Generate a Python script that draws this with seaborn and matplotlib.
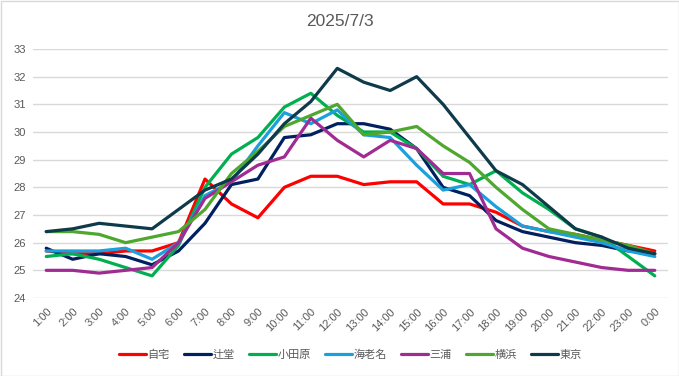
import pandas as pd
from matplotlib import pyplot as plt
import seaborn as sns

hours = [f'{h}:00' for h in range(1, 24)] + ['0:00']

jitaku   = [25.7, 25.6, 25.6, 25.7, 25.7, 26.0, 28.3, 27.4, 26.9, 28.0, 28.4, 28.4, 28.1, 28.2, 28.2, 27.4, 27.4, 27.1, 26.6, 26.4, 26.3, 26.1, 25.9, 25.7]
tsujido  = [25.8, 25.4, 25.6, 25.5, 25.2, 25.7, 26.7, 28.1, 28.3, 29.8, 29.9, 30.3, 30.3, 30.1, 29.4, 28.0, 27.7, 26.8, 26.4, 26.2, 26.0, 25.9, 25.7, 25.6]
odawara  = [25.5, 25.6, 25.4, 25.1, 24.8, 25.9, 28.0, 29.2, 29.8, 30.9, 31.4, 30.6, 30.0, 30.0, 29.4, 28.4, 28.1, 28.6, 27.8, 27.2, 26.5, 26.2, 25.5, 24.8]
ebina    = [25.7, 25.7, 25.7, 25.8, 25.4, 26.0, 27.7, 28.2, 29.5, 30.7, 30.3, 30.8, 29.9, 29.8, 28.8, 27.9, 28.1, 27.3, 26.6, 26.4, 26.2, 26.0, 25.7, 25.5]
miura    = [25.0, 25.0, 24.9, 25.0, 25.1, 26.0, 27.6, 28.2, 28.8, 29.1, 30.5, 29.7, 29.1, 29.7, 29.4, 28.5, 28.5, 26.5, 25.8, 25.5, 25.3, 25.1, 25.0, 25.0]
yokohama = [26.4, 26.4, 26.3, 26.0, 26.2, 26.4, 27.2, 28.5, 29.3, 30.2, 30.6, 31.0, 29.9, 30.0, 30.2, 29.5, 28.9, 28.0, 27.2, 26.5, 26.3, 26.1, 25.9, 25.6]
tokyo    = [26.4, 26.5, 26.7, 26.6, 26.5, 27.2, 27.9, 28.3, 29.2, 30.3, 31.1, 32.3, 31.8, 31.5, 32.0, 31.0, 29.8, 28.6, 28.1, 27.3, 26.5, 26.2, 25.8, 25.6]

places = ['自宅', '辻堂', '小田原', '海老名', '三浦', '横浜', '東京']
series = [jitaku, tsujido, odawara, ebina, miura, yokohama, tokyo]
colors = ['#FF0000', '#002060', '#00B050', '#1AA0DC', '#A02B93', '#4EA72E', '#0E3A4A']

rows = []
for name, vals in zip(places, series):
    for i, v in enumerate(vals):
        rows.append({'hour': i, 'place': name, 'temp': v})
df = pd.DataFrame(rows)

sns.set_style('white')
plt.rcParams['font.family'] = ['Liberation Sans', 'Noto Sans CJK JP', 'DejaVu Sans']

fig = plt.figure(figsize=(6.79, 3.76), dpi=100)
ax = fig.add_axes([33/679, 1-298/376, 635/679, 249/376])

sns.lineplot(data=df, x='hour', y='temp', hue='place', hue_order=places,
             palette=colors, linewidth=2.3, ax=ax)

ax.set_xlim(-0.5, 23.5)
ax.set_ylim(24, 33)
ax.set_yticks(range(24, 34))
ax.set_xticks(range(24))
ax.set_xticklabels(hours, rotation=45, ha='right', rotation_mode='anchor')
ax.tick_params(axis='both', length=0, labelsize=8, labelcolor='#595959')
ax.tick_params(axis='y', pad=5)
ax.tick_params(axis='x', pad=6)
ax.grid(axis='y', color='#D9D9D9', linewidth=1)
ax.grid(axis='x', visible=False)
for s in ax.spines.values():
    s.set_visible(False)
ax.set_xlabel('')
ax.set_ylabel('')

fig.text(0.5, 1-22/376, '2025/7/3', ha='center', va='center', fontsize=12.5, color='#595959')

leg = ax.legend(loc='center', bbox_to_anchor=(0.5, (298-355)/249), ncol=7, frameon=False,
                fontsize=8, handlelength=2.4, handletextpad=0.15, columnspacing=1.3)
for t in leg.get_texts():
    t.set_color('#595959')
for l in leg.get_lines():
    l.set_linewidth(2.3)

border = plt.Rectangle((0.5/679, 0.5/376), 1-1/679, 1-1/376, transform=fig.transFigure,
                       fill=False, edgecolor='#D9D9D9', linewidth=1)
fig.patches.append(border)

fig.savefig('out.png', dpi=100)
